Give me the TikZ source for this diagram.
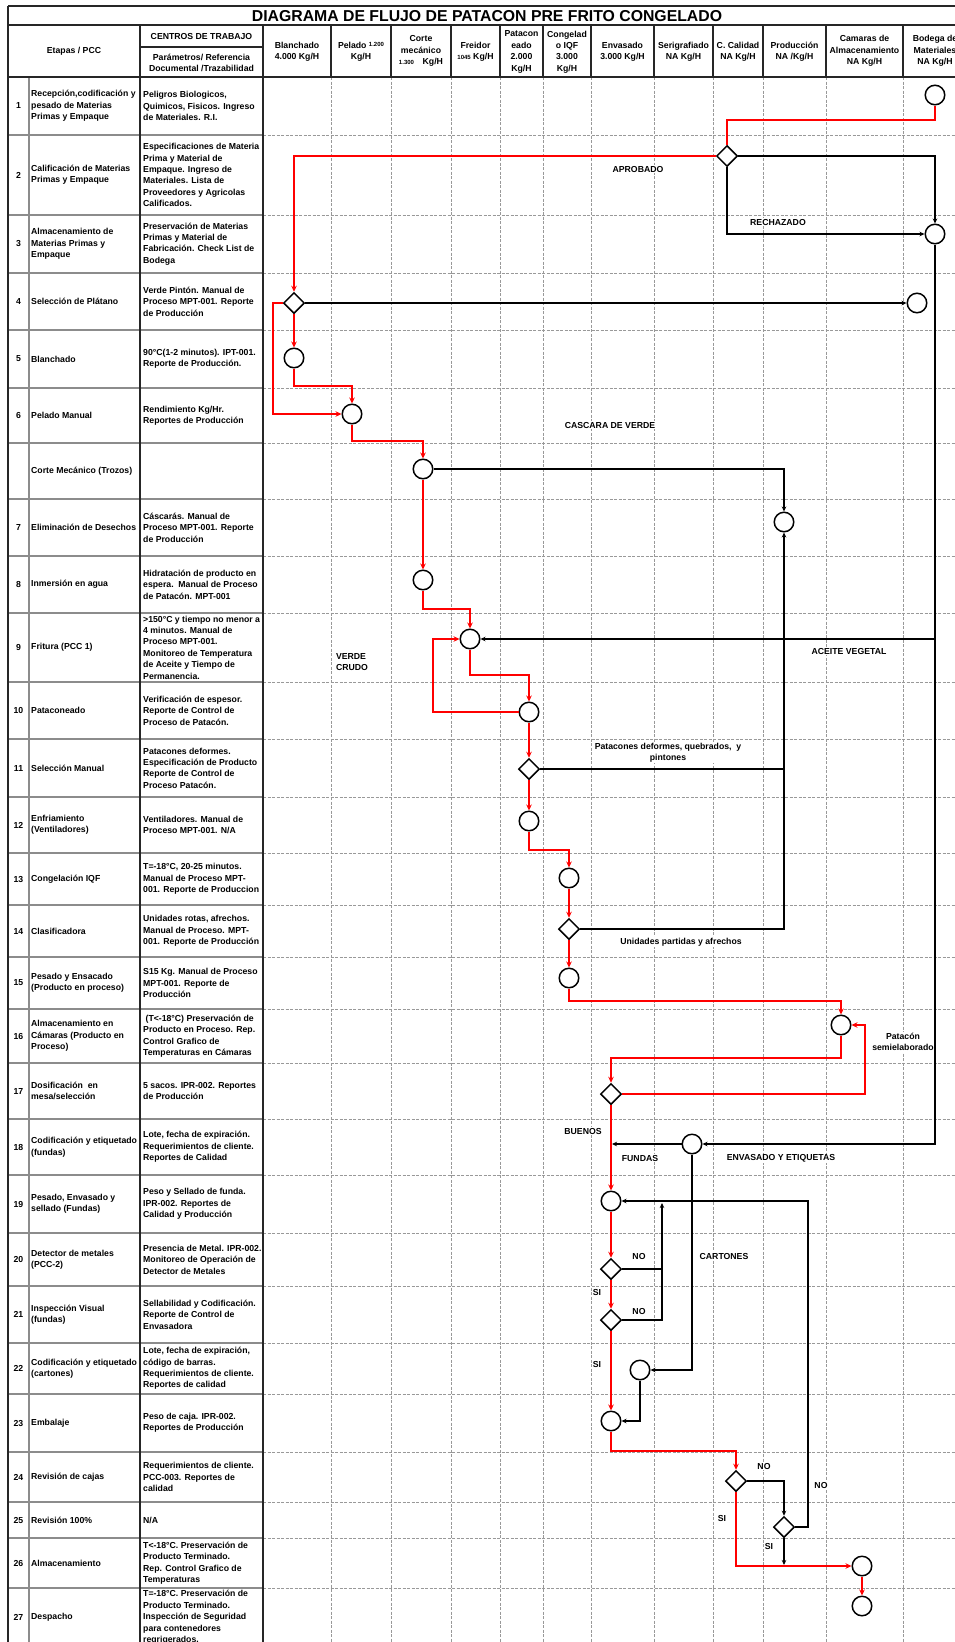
\documentclass[tikz,border=0pt]{standalone}
\usepackage{fontspec}
\setmainfont{Liberation Sans}
\usetikzlibrary{shapes.geometric,arrows.meta,calc}
\begin{document}
\begin{tikzpicture}[x=1pt,y=-1pt,
  every node/.style={font=\fontsize{8.7}{11.4}\selectfont\bfseries},
  proc/.style={circle,draw,line width=1.5pt,fill=white,minimum size=19.5pt,inner sep=0pt},
  dec/.style={diamond,draw,line width=1.5pt,fill=white,minimum size=21pt,inner sep=0pt,aspect=1},
  rarr/.style={draw=red,line width=1.8pt,-{Stealth[length=6pt,width=5.5pt]}},
  rline/.style={draw=red,line width=1.8pt},
  barr/.style={draw=black,line width=1.3pt,-{Stealth[length=5pt,width=4.5pt]}},
  bline/.style={draw=black,line width=1.3pt},
  lbl/.style={fill=white,inner sep=0.6pt,align=center},
  txt/.style={anchor=west,align=left,inner sep=0pt},
  num/.style={align=center,inner sep=0pt},
  hd/.style={align=center,inner sep=0pt},
  dark/.style={draw=black!85,line width=1.1pt},
  rowsep/.style={draw=black!45,line width=1.2pt},
  gridd/.style={draw=black!40,line width=0.7pt,dash pattern=on 3pt off 1.5pt}
]
\fill[white] (0,0) rectangle (955,1642);
\clip (0,0) rectangle (955,1642);

% ---------- grid ----------
\foreach \y in {135,215,273,330,388,443,499,556,613,682,739,797,853,905,957,1009,1063,1119,1175,1233,1286,1343,1394,1452,1502,1538,1588}{
  \draw[rowsep] (8,\y) -- (263,\y);
  \draw[gridd] (263,\y) -- (966,\y);
}
\foreach \x in {331,391,451,500,543,591,654,713,763,826,903}{
  \draw[gridd] (\x,77) -- (\x,1650);
  \draw[dark] (\x,25) -- (\x,77);
}
\draw[rowsep] (29,77) -- (29,1650);
\foreach \x in {8,140,263,966}{
  \draw[dark] (\x,25) -- (\x,1650);
}
\draw[dark] (8,6) -- (966,6);
\draw[dark] (8,6) -- (8,25);
\draw[dark] (8,25) -- (966,25);
\draw[dark] (8,77) -- (966,77);
\draw[dark] (140,47) -- (263,47);

% ---------- header ----------
\node[hd,font=\fontsize{15.8}{16}\selectfont\bfseries] (title) at (487,16) {DIAGRAMA DE FLUJO DE PATACON PRE FRITO CONGELADO};
\node[hd] (hEt) at (74,51) {Etapas / PCC};
\node[hd] (hCt) at (201.5,37) {CENTROS DE TRABAJO};
\node[hd] (hPa) at (201.5,63) {Parámetros/ Referencia\\Documental /Trazabilidad};
\node[hd] (hB) at (297,52) {Blanchado\\4.000 Kg/H};
\node[hd] (hP) at (361,52) {Pelado {\fontsize{6}{6}\selectfont\raisebox{2pt}{1.200}}\\Kg/H};
\node[hd] (hC) at (421,51) {Corte\\mecánico\\{\fontsize{6}{6}\selectfont 1.300}\quad Kg/H};
\node[hd] (hF) at (475.5,52) {Freidor\\{\fontsize{6}{6}\selectfont 1045} Kg/H};
\node[hd] (hPt) at (521.5,52) {Patacon\\eado\\2.000\\Kg/H};
\node[hd] (hCo) at (567,52) {Congelad\\o IQF\\3.000\\Kg/H};
\node[hd] (hEn) at (622.5,52) {Envasado\\3.000 Kg/H};
\node[hd] (hSe) at (683.5,52) {Serigrafiado\\NA Kg/H};
\node[hd] (hCa) at (738,52) {C. Calidad\\NA Kg/H};
\node[hd] (hPr) at (794.5,52) {Producción\\NA /Kg/H};
\node[hd] (hCm) at (864.5,51) {Camaras de\\Almacenamiento\\NA Kg/H};
\node[hd] (hBo) at (935,51) {Bodega de\\Materiales\\NA Kg/H};

% ---------- rows ----------
\node[num] (n1n) at (18.5,106) {1};
\node[txt] (n1e) at (31,106) {Recepción,codificación y\\pesado de Materias\\Primas y Empaque};
\node[txt] (n1c) at (143,106) {Peligros Biologicos,\\Quimicos, Fisicos. Ingreso\\de Materiales. R.I.};
\node[num] (n2n) at (18.5,175) {2};
\node[txt] (n2e) at (31,175) {Calificación de Materias\\Primas y Empaque};
\node[txt] (n2c) at (143,175) {Especificaciones de Materia\\Prima y Material de\\Empaque. Ingreso de\\Materiales. Lista de\\Proveedores y Agricolas\\Calificados.};
\node[num] (n3n) at (18.5,244) {3};
\node[txt] (n3e) at (31,244) {Almacenamiento de\\Materias Primas y\\Empaque};
\node[txt] (n3c) at (143,244) {Preservación de Materias\\Primas y Material de\\Fabricación. Check List de\\Bodega};
\node[num] (n4n) at (18.5,301.5) {4};
\node[txt] (n4e) at (31,301.5) {Selección de Plátano};
\node[txt] (n4c) at (143,301.5) {Verde Pintón. Manual de\\Proceso MPT-001. Reporte\\de Producción};
\node[num] (n5n) at (18.5,359) {5};
\node[txt] (n5e) at (31,359) {Blanchado};
\node[txt] (n5c) at (143,359) {90°C(1-2 minutos). IPT-001.\\Reporte de Producción.};
\node[num] (n6n) at (18.5,415.5) {6};
\node[txt] (n6e) at (31,415.5) {Pelado Manual};
\node[txt] (n6c) at (143,415.5) {Rendimiento Kg/Hr.\\Reportes de Producción};
\node[txt] (nCe) at (31,471) {Corte Mecánico (Trozos)};
\node[num] (n7n) at (18.5,527.5) {7};
\node[txt] (n7e) at (31,527.5) {Eliminación de Desechos};
\node[txt] (n7c) at (143,527.5) {Cáscarás. Manual de\\Proceso MPT-001. Reporte\\de Producción};
\node[num] (n8n) at (18.5,584.5) {8};
\node[txt] (n8e) at (31,584.5) {Inmersión en agua};
\node[txt] (n8c) at (143,584.5) {Hidratación de producto en\\espera.\ \ Manual de Proceso\\de Patacón. MPT-001};
\node[num] (n9n) at (18.5,647.5) {9};
\node[txt] (n9e) at (31,647.5) {Fritura (PCC 1)};
\node[txt] (n9c) at (143,647.5) {>150°C y tiempo no menor a\\4 minutos. Manual de\\Proceso MPT-001.\\Monitoreo de Temperatura\\de Aceite y Tiempo de\\Permanencia.};
\node[num] (n10n) at (18.5,710.5) {10};
\node[txt] (n10e) at (31,710.5) {Pataconeado};
\node[txt] (n10c) at (143,710.5) {Verificación de espesor.\\Reporte de Control de\\Proceso de Patacón.};
\node[num] (n11n) at (18.5,768) {11};
\node[txt] (n11e) at (31,768) {Selección Manual};
\node[txt] (n11c) at (143,768) {Patacones deformes.\\Especificación de Producto\\Reporte de Control de\\Proceso Patacón.};
\node[num] (n12n) at (18.5,825) {12};
\node[txt] (n12e) at (31,825) {Enfriamiento\\(Ventiladores)};
\node[txt] (n12c) at (143,825) {Ventiladores. Manual de\\Proceso MPT-001. N/A};
\node[num] (n13n) at (18.5,879) {13};
\node[txt] (n13e) at (31,879) {Congelación IQF};
\node[txt] (n13c) at (143,879) {T=-18°C, 20-25 minutos.\\Manual de Proceso MPT-\\001. Reporte de Produccion};
\node[num] (n14n) at (18.5,931) {14};
\node[txt] (n14e) at (31,931) {Clasificadora};
\node[txt] (n14c) at (143,931) {Unidades rotas, afrechos.\\Manual de Proceso. MPT-\\001. Reporte de Producción};
\node[num] (n15n) at (18.5,983) {15};
\node[txt] (n15e) at (31,983) {Pesado y Ensacado\\(Producto en proceso)};
\node[txt] (n15c) at (143,983) {S15 Kg. Manual de Proceso\\MPT-001. Reporte de\\Producción};
\node[num] (n16n) at (18.5,1036) {16};
\node[txt] (n16e) at (31,1036) {Almacenamiento en\\Cámaras (Producto en\\Proceso)};
\node[txt] (n16c) at (143,1036) {\ (T<-18°C) Preservación de\\Producto en Proceso. Rep.\\Control Grafico de\\Temperaturas en Cámaras};
\node[num] (n17n) at (18.5,1091) {17};
\node[txt] (n17e) at (31,1091) {Dosificación\ \ en\\mesa/selección};
\node[txt] (n17c) at (143,1091) {5 sacos. IPR-002. Reportes\\de Producción};
\node[num] (n18n) at (18.5,1147) {18};
\node[txt] (n18e) at (31,1147) {Codificación y etiquetado\\(fundas)};
\node[txt] (n18c) at (143,1147) {Lote, fecha de expiración.\\Requerimientos de cliente.\\Reportes de Calidad};
\node[num] (n19n) at (18.5,1204) {19};
\node[txt] (n19e) at (31,1204) {Pesado, Envasado y\\sellado (Fundas)};
\node[txt] (n19c) at (143,1204) {Peso y Sellado de funda.\\IPR-002. Reportes de\\Calidad y Producción};
\node[num] (n20n) at (18.5,1259.5) {20};
\node[txt] (n20e) at (31,1259.5) {Detector de metales\\(PCC-2)};
\node[txt] (n20c) at (143,1259.5) {Presencia de Metal. IPR-002.\\Monitoreo de Operación de\\Detector de Metales};
\node[num] (n21n) at (18.5,1314.5) {21};
\node[txt] (n21e) at (31,1314.5) {Inspección Visual\\(fundas)};
\node[txt] (n21c) at (143,1314.5) {Sellabilidad y Codificación.\\Reporte de Control de\\Envasadora};
\node[num] (n22n) at (18.5,1368.5) {22};
\node[txt] (n22e) at (31,1368.5) {Codificación y etiquetado\\(cartones)};
\node[txt] (n22c) at (143,1368.5) {Lote, fecha de expiración,\\código de barras.\\Requerimientos de cliente.\\Reportes de calidad};
\node[num] (n23n) at (18.5,1423) {23};
\node[txt] (n23e) at (31,1423) {Embalaje};
\node[txt] (n23c) at (143,1423) {Peso de caja. IPR-002.\\Reportes de Producción};
\node[num] (n24n) at (18.5,1477) {24};
\node[txt] (n24e) at (31,1477) {Revisión de cajas};
\node[txt] (n24c) at (143,1477) {Requerimientos de cliente.\\PCC-003. Reportes de\\calidad};
\node[num] (n25n) at (18.5,1520) {25};
\node[txt] (n25e) at (31,1520) {Revisión 100\%};
\node[txt] (n25c) at (143,1520) {N/A};
\node[num] (n26n) at (18.5,1563) {26};
\node[txt] (n26e) at (31,1563) {Almacenamiento};
\node[txt] (n26c) at (143,1563) {T<-18°C. Preservación de\\Producto Terminado.\\Rep. Control Grafico de\\Temperaturas};
\node[num] (n27n) at (18.5,1617.5) {27};
\node[txt] (n27e) at (31,1617.5) {Despacho};
\node[txt] (n27c) at (143,1617.5) {T=-18°C. Preservación de\\Producto Terminado.\\Inspección de Seguridad\\para contenedores\\regrigerados.};

% ---------- labels ----------
\node[lbl] (lA) at (638,169) {APROBADO};
\node[lbl] (lR) at (778,222) {RECHAZADO};
\node[lbl] (lCV) at (610,425) {CASCARA DE VERDE};
\node[lbl,align=left] (lVC) at (352,662) {VERDE\\CRUDO};
\node[lbl] (lAV) at (849,651) {ACEITE VEGETAL};
\node[lbl] (lPD) at (668,753) {Patacones deformes, quebrados,\ \ y\\pintones};
\node[lbl] (lUP) at (681,942) {Unidades partidas y afrechos};
\node[lbl] (lPS) at (903,1042) {Patacón\\semielaborado};
\node[lbl] (lBu) at (583,1131) {BUENOS};
\node[lbl] (lFu) at (640,1158) {FUNDAS};
\node[lbl] (lEE) at (781,1158) {ENVASADO Y ETIQUETAS};
\node[lbl] (lNo1) at (639,1256) {NO};
\node[lbl] (lCa) at (724,1256) {CARTONES};
\node[lbl] (lSi1) at (597,1292) {SI};
\node[lbl] (lNo2) at (639,1311) {NO};
\node[lbl] (lSi2) at (597,1364) {SI};
\node[lbl] (lNo3) at (764,1466) {NO};
\node[lbl] (lNo4) at (821,1485) {NO};
\node[lbl] (lSi3) at (722,1518) {SI};
\node[lbl] (lSi4) at (769,1546) {SI};

% ---------- flow nodes ----------
\node[proc] (p1) at (935,95) {};
\node[dec] (d2) at (727,156) {};
\node[proc] (p3) at (935,234) {};
\node[dec] (d4) at (294,303) {};
\node[proc] (p4b) at (917,303) {};
\node[proc] (p5) at (294,358) {};
\node[proc] (p6) at (352,414) {};
\node[proc] (pC) at (423,469) {};
\node[proc] (p7) at (784,522) {};
\node[proc] (p8) at (423,580) {};
\node[proc] (p9) at (470,639) {};
\node[proc] (p10) at (529,712) {};
\node[dec] (d11) at (529,769) {};
\node[proc] (p12) at (529,821) {};
\node[proc] (p13) at (569,878) {};
\node[dec] (d14) at (569,929) {};
\node[proc] (p15) at (569,978) {};
\node[proc] (p16) at (841,1025) {};
\node[dec] (d17) at (611,1094) {};
\node[proc] (p18) at (692,1144) {};
\node[proc] (p19) at (611,1201) {};
\node[dec] (d20) at (611,1269) {};
\node[dec] (d21) at (611,1320) {};
\node[proc] (p22) at (640,1370) {};
\node[proc] (p23) at (611,1421) {};
\node[dec] (d24) at (736,1481) {};
\node[dec] (d25) at (784,1527) {};
\node[proc] (p26) at (862,1566) {};
\node[proc] (p27) at (862,1606) {};
\coordinate (jA) at (935,639);
\coordinate (jU) at (662,1203);

% ---------- connectors ----------
\draw[rline] (p1.south) |- (727,120) -- (d2.north);
\draw[rarr] (d2.west) -| (d4.north);
\draw[barr] (d2.east) -| (p3.north);
\draw[barr] (d2.south) |- (p3.west);
\draw[barr] (d4.east) -- (p4b.west);
\draw[rarr] (d4.south) -- (p5.north);
\draw[rarr] (d4.west) -- (273,303) |- (p6.west);
\draw[rarr] (p5.south) -- (294,386) -| (p6.north);
\draw[rarr] (p6.south) -- (352,441) -| (pC.north);
\draw[barr] (pC.east) -| (p7.north);
\draw[rarr] (pC.south) -- (p8.north);
\draw[rarr] (p8.south) -- (423,609) -| (p9.north);
\draw[rarr] (p9.south) -- (470,675) -| (p10.north);
\draw[rarr] (p10.west) -- (433,712) |- (p9.west);
\draw[rarr] (p10.south) -- (d11.north);
\draw[bline] (d11.east) -- (784,769);
\draw[rarr] (d11.south) -- (p12.north);
\draw[rarr] (p12.south) -- (529,850) -| (p13.north);
\draw[rarr] (p13.south) -- (d14.north);
\draw[barr] (d14.east) -| (p7.south);
\draw[rarr] (d14.south) -- (p15.north);
\draw[rarr] (p15.south) -- (569,1001) -| (p16.north);
\draw[rarr] (p16.south) -- (841,1058) -| (d17.north);
\draw[rarr] (d17.east) -- (865,1094) |- (p16.east);
\draw[rarr] (d17.south) -- (p19.north);
\draw[barr] (p3.south) |- (p18.east);
\draw[barr] (jA) -- (p9.east);
\draw[barr] (p18.west) -- (612,1144);
\draw[barr] (p18.south) |- (p22.east);
\draw[rarr] (p19.south) -- (d20.north);
\draw[barr] (d20.east) -| (jU);
\draw[bline] (d21.east) -| (662,1269);
\draw[rarr] (d20.south) -- (d21.north);
\draw[rarr] (d21.south) -- (p23.north);
\draw[barr] (p22.south) |- (p23.east);
\draw[rarr] (p23.south) -- (611,1451) -| (d24.north);
\draw[barr] (d24.east) -| (d25.north);
\draw[rarr] (d24.south) |- (p26.west);
\draw[barr] (d25.south) -- (784,1565);
\draw[barr] (d25.east) -- (808,1527) |- (p19.east);
\draw[rarr] (p26.south) -- (p27.north);
\end{tikzpicture}
\end{document}
